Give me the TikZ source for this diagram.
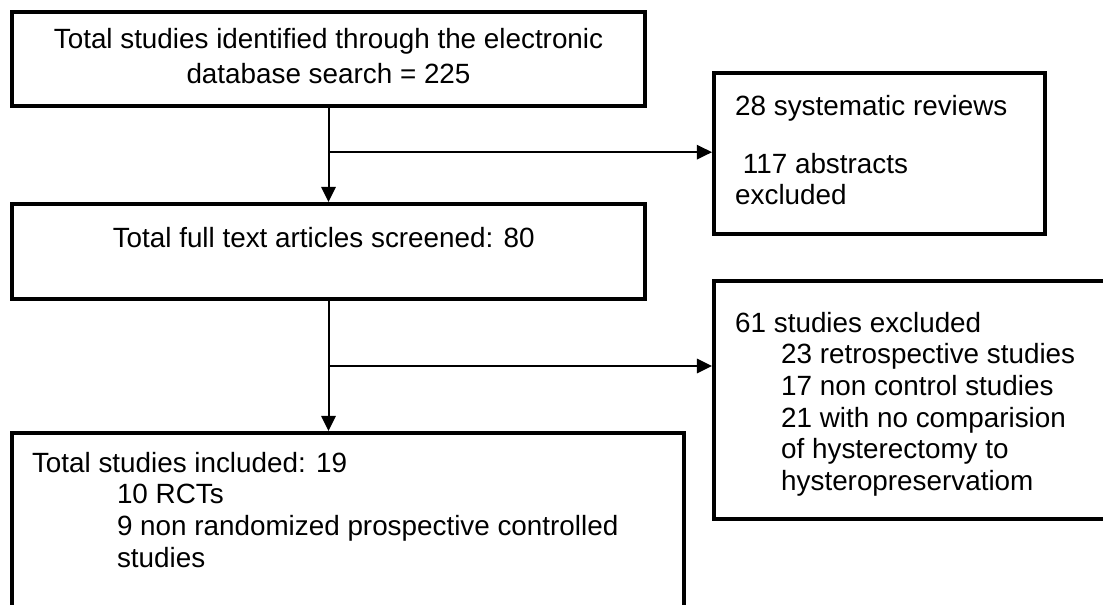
\documentclass[tikz,border=0pt]{standalone}
\usepackage{fontspec}
\setmainfont{Liberation Sans}
\usetikzlibrary{arrows.meta, positioning}

\begin{document}
\begin{tikzpicture}[
    box/.style={draw, line width=0.1cm, anchor=north west, inner sep=0pt},
    txt/.style={inner sep=0pt, outer sep=0pt, align=left, font=\fontsize{19.8pt}{22.5pt}\selectfont},
    arr/.style={-{Triangle[length=0.38cm, width=0.36cm]}, line width=0.05cm},
]
\useasboundingbox (0,0) rectangle (27.575,-15.1);
\clip (0,0) rectangle (27.575,-15.1);

% Left column
\node[box, minimum width=15.825cm, minimum height=2.35cm] (b1) at (0.25,-0.25) {};
\node[box, minimum width=15.825cm, minimum height=2.375cm] (b2) at (0.25,-5.05) {};
\node[box, minimum width=16.8cm, minimum height=5.425cm] (b3) at (0.25,-10.775) {};

% Exclusions
\node[box, minimum width=8.275cm, minimum height=4.025cm] (r1) at (17.8,-1.775) {};
\node[box, minimum width=10.4cm, minimum height=5.95cm] (r2) at (17.8,-6.975) {};

% Texts
\node[txt, align=center, below=0.45cm of b1.north, font=\fontsize{19.8pt}{25pt}\selectfont] (t1) {Total studies identified through the electronic\\database search = 225};
\node[txt, below=0.625cm of b2.north, xshift=-0.12cm] (t2) {Total full text articles screened: 80};
\node[txt, below right=0.6cm and 0.58cm of r1.north west] (t3) {28 systematic reviews\\[0.66cm]\ 117 abstracts\\excluded};
\node[txt, below right=0.825cm and 0.58cm of r2.north west] (t4) {61 studies excluded\\\hspace*{1.15cm}23 retrospective studies\\\hspace*{1.15cm}17 non control studies\\\hspace*{1.15cm}21 with no comparision\\\hspace*{1.15cm}of hysterectomy to\\\hspace*{1.15cm}hysteropreservatiom};
\node[txt, below right=0.525cm and 0.55cm of b3.north west] (t5) {Total studies included: 19\\\hspace*{2.125cm}10 RCTs\\\hspace*{2.125cm}9 non randomized prospective controlled\\\hspace*{2.125cm}studies};

% Arrows
\draw[arr] (b1.south) -- (b2.north) coordinate[pos=0.47] (j1);
\draw[arr] (b2.south) -- (b2.south |- b3.north) coordinate[pos=0.5] (j2);
\draw[arr] (j1) -- (j1 -| r1.west);
\draw[arr] (j2) -- (j2 -| r2.west);

\end{tikzpicture}
\end{document}
